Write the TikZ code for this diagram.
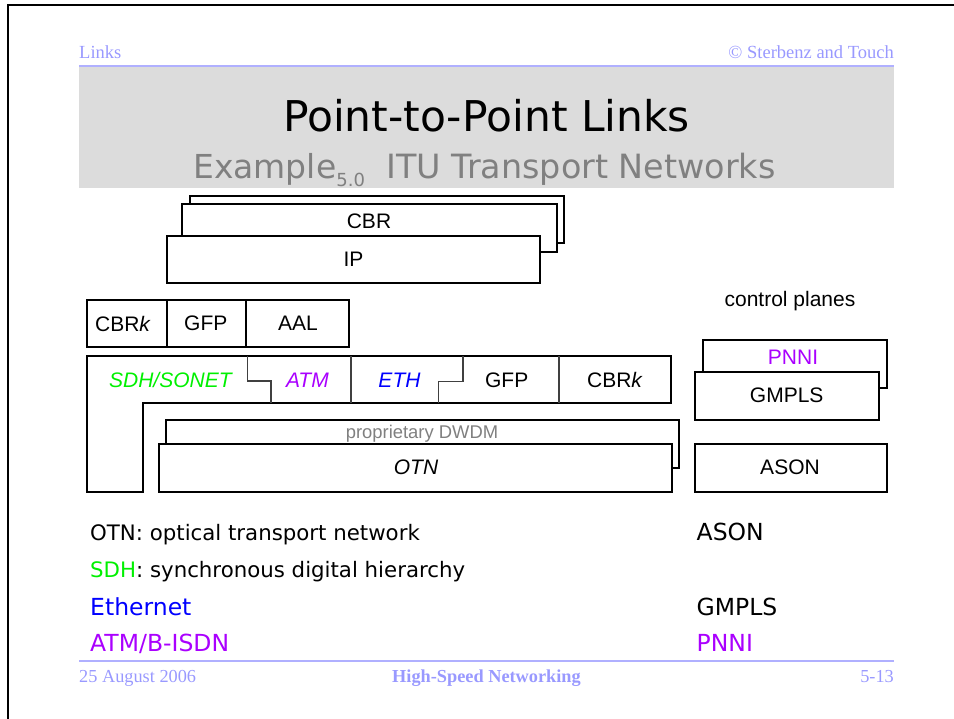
\documentclass[tikz,border=0pt]{standalone}
\usepackage{fontspec}
\setmainfont{Liberation Serif}
\newfontfamily\arialf{Liberation Sans}
\newfontfamily\dvf{DejaVu Sans}
\definecolor{hdr}{HTML}{9999FF}
\definecolor{hdrline}{HTML}{B0B0FF}
\definecolor{titlegray}{HTML}{DCDCDC}
\definecolor{subgray}{HTML}{808080}
\definecolor{sdhg}{HTML}{00F000}
\definecolor{atmp}{HTML}{AA00FF}
\definecolor{ethb}{HTML}{0000FF}
\definecolor{divgray}{HTML}{404040}
\begin{document}
\begin{tikzpicture}[x=1pt,y=-1pt,
  lay/.style={draw=black, line width=2pt, fill=white, inner sep=0pt, outer sep=0pt, anchor=north west},
  lbl/.style={inner sep=0pt, font=\arialf\fontsize{21}{25}\selectfont},
  small/.style={inner sep=0pt, font=\arialf\fontsize{18.4}{22}\selectfont, text=subgray},
  btxt/.style={inner sep=0pt, anchor=base west, font=\dvf\fontsize{21.3}{26}\selectfont},
  bigtxt/.style={inner sep=0pt, anchor=base west, font=\dvf\fontsize{23.5}{28}\selectfont},
  hf/.style={inner sep=0pt, text=hdr, font=\fontsize{18.5}{22}\selectfont},
  divider/.style={draw=divgray, line width=1.4pt}
]
\useasboundingbox (0,0) rectangle (954,719);
% page frame
\draw[line width=2.3pt] (7.8,719) -- (7.8,5) -- (954,5);
% header
\node[hf, anchor=base west] (hlinks) at (79,59) {Links};
\node[hf, anchor=base east] (hcopy) at (894,59) {\textcopyright{} Sterbenz and Touch};
\fill[titlegray] (79,66) rectangle (894,187.7);
\draw[hdrline, line width=2pt] (79,66) -- (894,66);
\node[inner sep=0pt, anchor=base, font=\dvf\fontsize{42.4}{50}\selectfont] (title) at (486.5,131.7) {Point-to-Point Links};
\node[inner sep=0pt, anchor=base west, text=subgray, font=\dvf\fontsize{33}{40}\selectfont] (sub1) at (193,179) {Example\raisebox{-7.7pt}{\fontsize{18}{20}\selectfont 5.0}};
\node[inner sep=0pt, anchor=base west, text=subgray, font=\dvf\fontsize{33.4}{40}\selectfont] (sub2) at (386,179) {ITU Transport Networks};
% top stack
\node[lay, minimum width=374pt, minimum height=47.3pt] (back) at (190,195.7) {};
\node[lay, minimum width=374.6pt, minimum height=47.7pt] (cbrbox) at (182,204) {};
\node[lbl] (cbrlbl) at (369,221.7) {CBR};
\node[lay, minimum width=373pt, minimum height=47pt] (ipbox) at (167,236) {};
\node[lbl] (iplbl) at (353.5,259.5) {IP};
% CBRk GFP AAL
\node[lay, minimum width=79.7pt, minimum height=47.3pt] (c1) at (87.3,300) {};
\node[lay, minimum width=78.8pt, minimum height=47.3pt] (c2) at (167,300) {};
\node[lay, minimum width=103.2pt, minimum height=47.3pt] (c3) at (245.8,300) {};
\node[lbl] (c1l) at (123,323.6) {CBR\textit{k}};
\node[lbl] (c2l) at (205.8,323.6) {GFP};
\node[lbl] (c3l) at (298,323.6) {AAL};
% SDH/SONET shape
\draw[line width=2pt, fill=white, line join=miter] (87,356) -- (671,356) -- (671,403.3) -- (143.3,403.3) -- (143.3,491.7) -- (87,491.7) -- cycle;
\draw[divider] (247.3,356) -- (247.3,381) -- (271,381) -- (271,403.3);
\draw[divider] (350.9,356) -- (350.9,403.3);
\draw[divider] (438.6,403.3) -- (438.6,381.5) -- (462.8,381.5) -- (462.8,356);
\draw[divider] (559,356) -- (559,403.3);
\node[lbl, text=sdhg] (sdhl) at (171,380) {\textit{SDH/SONET}};
\node[lbl, text=atmp] (atml) at (307.4,380) {\textit{ATM}};
\node[lbl, text=ethb] (ethl) at (399.5,380) {\textit{ETH}};
\node[lbl] (gfpl) at (506.7,380) {GFP};
\node[lbl] (cbrkl) at (615,380) {CBR\textit{k}};
% DWDM / OTN
\node[lay, minimum width=513pt, minimum height=48.3pt] (dwdm) at (166,420) {};
\node[small] (dwdml) at (422,434) {proprietary DWDM};
\node[lay, minimum width=513pt, minimum height=47.7pt] (otn) at (159,444) {};
\node[lbl] (otnl) at (416,467.5) {\textit{OTN}};
% control planes
\node[lbl] (cp) at (790,300.7) {control planes};
\node[lay, minimum width=184.6pt, minimum height=48.3pt] (pnni) at (702.7,340) {};
\node[lbl, text=atmp] (pnnil) at (793,357.3) {PNNI};
\node[lay, minimum width=184.6pt, minimum height=48.3pt] (gmpls) at (694.7,371.7) {};
\node[lbl] (gmplsl) at (786.7,395.7) {GMPLS};
\node[lay, minimum width=192.6pt, minimum height=48pt] (ason) at (694.7,444) {};
\node[lbl] (asonl) at (790,467.7) {ASON};
% bottom text
\node[btxt] (t1) at (90,540.7) {OTN: optical transport network};
\node[btxt] (t2) at (90,577) {{\color{sdhg}SDH}: synchronous digital hierarchy};
\node[bigtxt, text=ethb] (t3) at (90,615) {Ethernet};
\node[bigtxt, text=atmp] (t4) at (90,651.7) {ATM/B-ISDN};
\node[bigtxt] (r1) at (696.5,540.7) {ASON};
\node[bigtxt] (r2) at (696.5,615) {GMPLS};
\node[bigtxt, text=atmp] (r3) at (696.5,651.7) {PNNI};
% footer
\draw[hdrline, line width=1.5pt] (79,661) -- (894,661);
\node[hf, anchor=base west, font=\fontsize{18.3}{22}\selectfont] (fdate) at (79,682.3) {25 August 2006};
\node[hf, anchor=base, font=\bfseries\fontsize{18.3}{22}\selectfont] (fhsn) at (486.5,682.3) {High-Speed Networking};
\node[hf, anchor=base east, font=\fontsize{18.3}{22}\selectfont] (fpage) at (894,682.3) {5-13};
\end{tikzpicture}
\end{document}
